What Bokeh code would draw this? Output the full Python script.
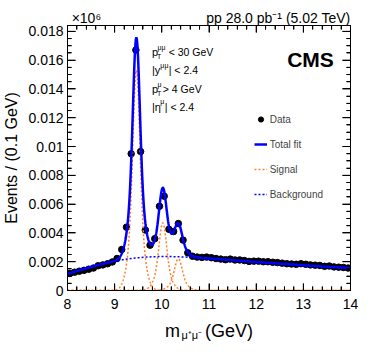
import math
import numpy as np
from bokeh.plotting import figure
from bokeh.models import (LinearAxis, SingleIntervalTicker, Label, Legend, LegendItem,
                          ColumnDataSource, Range1d, Title, CustomJSTickFormatter)
from bokeh.embed import file_html
from bokeh.resources import INLINE

# ---------------- data ----------------
mass_bins = [8.05, 8.15, 8.25, 8.35, 8.45, 8.55, 8.65, 8.75, 8.85, 8.95,
             9.05, 9.15, 9.25, 9.35, 9.45, 9.55, 9.65, 9.75, 9.85, 9.95,
             10.05, 10.15, 10.25, 10.35, 10.45, 10.55, 10.65, 10.75, 10.85, 10.95,
             11.05, 11.15, 11.25, 11.35, 11.45, 11.55, 11.65, 11.75, 11.85, 11.95,
             12.05, 12.15, 12.25, 12.35, 12.45, 12.55, 12.65, 12.75, 12.85, 12.95,
             13.05, 13.15, 13.25, 13.35, 13.45, 13.55, 13.65, 13.75, 13.85, 13.95]
events = [0.00118, 0.00127, 0.00134, 0.00140, 0.00148, 0.00156, 0.00172, 0.00178, 0.00186, 0.00198,
          0.00222, 0.00285, 0.00440, 0.00950, 0.01670, 0.00965, 0.00420, 0.00315, 0.00360, 0.00585,
          0.00655, 0.00425, 0.00410, 0.00465, 0.00350, 0.00262, 0.00238, 0.00232, 0.00230, 0.00232,
          0.00228, 0.00222, 0.00218, 0.00214, 0.00218, 0.00212, 0.00212, 0.00208, 0.00202, 0.00204,
          0.00204, 0.00200, 0.00200, 0.00196, 0.00194, 0.00190, 0.00186, 0.00184, 0.00182, 0.00186,
          0.00182, 0.00178, 0.00176, 0.00174, 0.00168, 0.00170, 0.00164, 0.00162, 0.00160, 0.00156]
event_errors = [0.00004, 0.00004, 0.00004, 0.00004, 0.00004, 0.00004, 0.00004, 0.00004, 0.00004, 0.00004,
                0.00005, 0.00005, 0.00007, 0.00010, 0.00013, 0.00010, 0.00007, 0.00006, 0.00006, 0.00008,
                0.00008, 0.00007, 0.00006, 0.00007, 0.00006, 0.00005, 0.00005, 0.00005, 0.00005, 0.00005,
                0.00005, 0.00005, 0.00005, 0.00005, 0.00005, 0.00005, 0.00005, 0.00005, 0.00004, 0.00004,
                0.00004, 0.00004, 0.00004, 0.00004, 0.00004, 0.00004, 0.00004, 0.00004, 0.00004, 0.00004,
                0.00004, 0.00004, 0.00004, 0.00004, 0.00004, 0.00004, 0.00004, 0.00004, 0.00004, 0.00004]

# fit parameters (Y(1S), Y(2S), Y(3S))
peak_masses = [9.46, 10.02, 10.35]
peak_amplitudes = [0.0153, 0.0047, 0.0022]
core_width_1s = 0.070
tail_width_1s = 0.140
core_fraction = 0.66
# background: exponential times error-function turn-on
bkg_norm = 0.00873
bkg_slope = 8.1
bkg_turnon_mean = 8.4
bkg_turnon_width = 1.55

x_tick_values = [8, 9, 10, 11, 12, 13, 14]
x_tick_labels = ["8", "9", "10", "11", "12", "13", "14"]
y_tick_values = [0.0, 0.002, 0.004, 0.006, 0.008, 0.010, 0.012, 0.014, 0.016, 0.018]
y_tick_labels = ["0", "0.002", "0.004", "0.006", "0.008", "0.01", "0.012", "0.014", "0.016", "0.018"]

# ---------------- model curves ----------------
m_fit = np.linspace(8.0, 14.0, 1501)

def background(m):
    turn = np.array([(1.0 + math.erf((v - bkg_turnon_mean) / bkg_turnon_width)) / 2.0 for v in m])
    return bkg_norm * np.exp(-m / bkg_slope) * turn

def signal(m, mass, amp):
    scale = mass / peak_masses[0]
    s1 = core_width_1s * scale
    s2 = tail_width_1s * scale
    d = m - mass
    return amp * (core_fraction * np.exp(-d**2 / (2 * s1**2)) +
                  (1 - core_fraction) * np.exp(-d**2 / (2 * s2**2)))

bkg_curve = background(m_fit)
sig_curves = [signal(m_fit, mm, aa) for mm, aa in zip(peak_masses, peak_amplitudes)]
total_curve = bkg_curve + sum(sig_curves)

# ---------------- figure ----------------
FONT = "Liberation Sans"
X0, X1 = 8.0, 14.0
YMAX = 0.018408
W, H = 358, 343
BL, BT, BR, BB = 67, 25, 8, 51          # borders -> frame 67..350 x 25..292
FW, FH = W - BL - BR, H - BT - BB

p = figure(width=W, height=H, x_range=Range1d(X0, X1), y_range=Range1d(0, YMAX),
           output_backend="svg", toolbar_location=None,
           min_border_left=BL, min_border_right=BR, min_border_top=BT, min_border_bottom=BB)
p.grid.visible = False
p.outline_line_color = "black"
p.outline_line_width = 1
p.background_fill_color = "white"
p.border_fill_color = "white"

xfmt = CustomJSTickFormatter(args=dict(vals=x_tick_values, labs=x_tick_labels), code="""
let b = 0;
for (let i = 0; i < vals.length; i++) { if (Math.abs(vals[i] - tick) < Math.abs(vals[b] - tick)) b = i; }
return labs[b];""")
yfmt = CustomJSTickFormatter(args=dict(vals=y_tick_values, labs=y_tick_labels), code="""
let b = 0;
for (let i = 0; i < vals.length; i++) { if (Math.abs(vals[i] - tick) < Math.abs(vals[b] - tick)) b = i; }
return labs[b];""")
nofmt = CustomJSTickFormatter(code="return '';")

def style_axis(ax, ticker, fmt, major_len, minor_len):
    ax.ticker = ticker
    ax.formatter = fmt
    ax.axis_line_color = "black"
    ax.major_tick_line_color = "black"
    ax.minor_tick_line_color = "black"
    ax.major_tick_in = major_len
    ax.major_tick_out = 0
    ax.minor_tick_in = minor_len
    ax.minor_tick_out = 0
    ax.major_label_text_font = FONT
    ax.major_label_text_color = "black"

xtick = SingleIntervalTicker(interval=1, num_minor_ticks=5)
ytick = SingleIntervalTicker(interval=0.002, num_minor_ticks=4)

bx = p.xaxis[0]
style_axis(bx, xtick, xfmt, 7, 4)
bx.major_label_text_font_size = "14px"
bx.major_label_standoff = 8
bx.axis_label = "m\u00a0\u00a0\u00a0\u00a0\u00a0(GeV)"
bx.axis_label_text_font = FONT
bx.axis_label_text_font_size = "18px"
bx.axis_label_text_font_style = "normal"
bx.axis_label_text_color = "black"
bx.axis_label_standoff = 9

ly = p.yaxis[0]
style_axis(ly, ytick, yfmt, 8, 4)
ly.major_label_text_font_size = "14px"
ly.major_label_standoff = 4
ly.axis_label = "Events / (0.1 GeV)"
ly.axis_label_text_font = FONT
ly.axis_label_text_font_size = "16px"
ly.axis_label_text_font_style = "normal"
ly.axis_label_text_color = "black"
ly.axis_label_standoff = 5

top_ax = LinearAxis()
style_axis(top_ax, xtick, nofmt, 7, 4)
top_ax.major_label_standoff = 0
top_ax.major_label_text_font_size = "0px"
p.add_layout(top_ax, "above")
right_ax = LinearAxis()
style_axis(right_ax, ytick, nofmt, 8, 4)
right_ax.major_label_standoff = 0
right_ax.major_label_text_font_size = "0px"
p.add_layout(right_ax, "right")

# subscript of the x title and the line of text above the frame
p.add_layout(Title(text="\u03bc\u207a\u03bc\u207b", align="left", offset=114, standoff=-30,
                   vertical_align="top",
                   text_font=FONT, text_font_size="11px", text_font_style="normal",
                   text_color="black"), "below")
top_line = "\u00d710\u2076" + "\u00a0" * 27 + "pp 28.0 pb\u207b\u00b9 (5.02 TeV)"
p.add_layout(Title(text=top_line, align="right", standoff=0,
                   text_font=FONT, text_font_size="14px", text_font_style="normal",
                   text_color="black"), "above")

# ---------------- tick marks drawn inside the frame on all four sides ----------------
px_x = (X1 - X0) / FW      # data units per pixel, horizontal
px_y = YMAX / FH           # data units per pixel, vertical
x_minor = [v for v in np.round(np.arange(X0, X1 + 1e-9, 0.2), 3) if abs(v - round(v)) > 1e-6]
y_minor = [v for v in np.round(np.arange(0.0, YMAX, 0.0005), 5)
           if min(abs(v - t) for t in y_tick_values) > 1e-9]

tx0, ty0, tx1, ty1 = [], [], [], []
for xs, L in ((x_tick_values, 7), (x_minor, 4)):
    for v in xs:
        tx0 += [v, v]; tx1 += [v, v]
        ty0 += [0.0, YMAX]; ty1 += [L * px_y, YMAX - L * px_y]
for ys, L in ((y_tick_values, 8), (y_minor, 4)):
    for v in ys:
        ty0 += [v, v]; ty1 += [v, v]
        tx0 += [X0, X1]; tx1 += [X0 + L * px_x, X1 - L * px_x]
p.segment(x0=tx0, y0=ty0, x1=tx1, y1=ty1, line_color="black", line_width=1)

# ---------------- glyphs ----------------
src = ColumnDataSource(dict(m=mass_bins, n=events,
                            lo=[a - b for a, b in zip(events, event_errors)],
                            hi=[a + b for a, b in zip(events, event_errors)]))
p.segment(x0="m", y0="lo", x1="m", y1="hi", source=src, line_color="black", line_width=1)
data_r = p.scatter(x="m", y="n", source=src, size=6.5, marker="circle",
                   fill_color="black", line_color="black")

ORANGE = "#ff7f2a"
sig_rs = []
for sc in sig_curves:
    sig_rs.append(p.line(m_fit, sc, line_color=ORANGE, line_width=1.5, line_dash="2 2"))
bkg_r = p.line(m_fit, bkg_curve, line_color="#0000ff", line_width=1.5, line_dash="2 2")
tot_r = p.line(m_fit, total_curve, line_color="#0000ff", line_width=2.5)

# reference frame geometry (px) used to place texts inside the frame
RL, RT, RR, RB = 67, 25, 355, 296

def dx(xp):
    return X0 + (xp - RL) / (RR - RL) * (X1 - X0)

def dy(yp):
    return (RB - yp) / (RB - RT) * YMAX

leg_x = (257 - RL) / (RR - RL) * FW
leg_y = FH + BT - 203
legend = Legend(items=[LegendItem(label="Data", renderers=[data_r]),
                       LegendItem(label="Total fit", renderers=[tot_r]),
                       LegendItem(label="Signal", renderers=[sig_rs[0]]),
                       LegendItem(label="Background", renderers=[bkg_r])],
                location=(leg_x, leg_y), padding=0, margin=0, spacing=11,
                glyph_width=13, glyph_height=14, label_height=14, label_standoff=3,
                label_text_font=FONT, label_text_font_size="10px",
                border_line_color=None, background_fill_alpha=0)
p.add_layout(legend)

def txt(s, xp, yp, size, align="left", bold=False):
    p.add_layout(Label(x=dx(xp), y=dy(yp), text=s,
                       text_font=FONT, text_font_size=f"{size}px", text_align=align,
                       text_baseline="alphabetic", text_color="black",
                       text_font_style="bold" if bold else "normal"))

txt("CMS", 338, 60, 21, align="right", bold=True)
txt("p", 153, 52, 11)
txt("T", 158, 57, 7)
txt("\u03bc\u03bc", 158.5, 47, 7)
txt("< 30 GeV", 170, 52, 10.5)
txt("|y", 153, 71, 11)
txt("\u03bc\u03bc", 161.5, 66, 7)
txt("| < 2.4", 170, 71, 10.5)
txt("p", 153, 90, 11)
txt("T", 158, 95, 7)
txt("\u03bc", 158.5, 85, 7)
txt("> 4 GeV", 164, 90, 10.5)
txt("|\u03b7", 153, 108, 11)
txt("\u03bc", 161.5, 103, 7)
txt("| < 2.4", 166, 108, 10.5)

open("out.html", "w").write(file_html(p, INLINE))
